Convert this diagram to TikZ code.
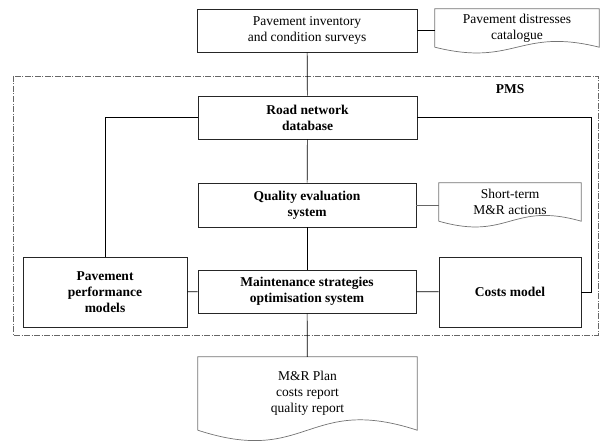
\documentclass[tikz,border=0pt]{standalone}
\usepackage{fontspec}
\setmainfont{Liberation Serif}
\usetikzlibrary{positioning}
\newcommand{\wavedoc}[3]{%
  \draw[docline] (#1.south west) -- (#1.north west) -- (#1.north east) -- (#1.south east)
    .. controls +(-#2,-#3) and +(#2,#3) .. (#1.south west);}
\begin{document}
\begin{tikzpicture}[x=1pt,y=-1pt,
	box/.style={draw=black!85, line width=0.8pt, align=center, inner sep=0pt},
	docnode/.style={align=center, inner sep=0pt},
	docline/.style={draw=black!55, line width=0.7pt},
	link/.style={line width=0.7pt},
	every node/.style={font=\fontsize{13.5}{16}\selectfont}]
		\useasboundingbox (0,0) rectangle (601,441);
		\draw[black!60, line width=0.6pt, dash pattern=on 6pt off 1.5pt on 1pt off 1.5pt] (13,76) rectangle (598,335);
		\node[box, minimum width=220pt, minimum height=43pt] (inv) at (307,30.5) {Pavement inventory\\and condition surveys};
		\node[docnode, minimum width=164pt, minimum height=38pt] (cat) at (517,28) {Pavement distresses\\catalogue};
		\node[font=\fontsize{13.5}{16}\selectfont\bfseries] (pms) at (510,89) {PMS};
		\node[box, font=\fontsize{13.5}{16}\selectfont\bfseries, minimum width=219pt, minimum height=43pt] (road) at (307.5,117.5) {Road network\\database};
		\node[box, font=\fontsize{13.5}{16}\selectfont\bfseries, minimum width=218pt, minimum height=44pt] (qual) at (307,205) {Quality evaluation\\system};
		\node[docnode, minimum width=142pt, minimum height=38pt] (short) at (510,202) {Short-term\\M\&R actions};
		\node[box, font=\fontsize{13.5}{16}\selectfont\bfseries, minimum width=218pt, minimum height=43pt] (maint) at (307,291.5) {Maintenance strategies\\optimisation system};
		\node[box, font=\fontsize{13.5}{16}\selectfont\bfseries, minimum width=164pt, minimum height=70pt] (perf) at (105,292) {Pavement\\performance\\models};
		\node[box, font=\fontsize{13.5}{16}\selectfont\bfseries, minimum width=142pt, minimum height=70pt] (cost) at (510,292) {Costs model};
		\node[docnode, minimum width=219pt, minimum height=73pt] (plan) at (307.5,393.5) {M\&R Plan\\costs report\\quality report};
		\coordinate (costbend) at (591,292);
		\wavedoc{cat}{80}{20}
		\wavedoc{short}{70}{20}
		\wavedoc{plan}{110}{36}
		\draw[link] (inv) -- (road);
		\draw[link] (inv.east) -- (inv.east -| cat.west);
		\draw[link] (road.west) -| (perf.north);
		\draw[link] (road.east) -| (costbend) -- (cost.east);
		\draw[link] (road) -- (qual);
		\draw[link, black!60] (qual.east) -- (qual.east -| short.west);
		\draw[link] (qual) -- (maint);
		\draw[link] (perf) -- (maint);
		\draw[link] (maint) -- (cost);
		\draw[link] (maint) -- (plan);
\end{tikzpicture}
\end{document}
